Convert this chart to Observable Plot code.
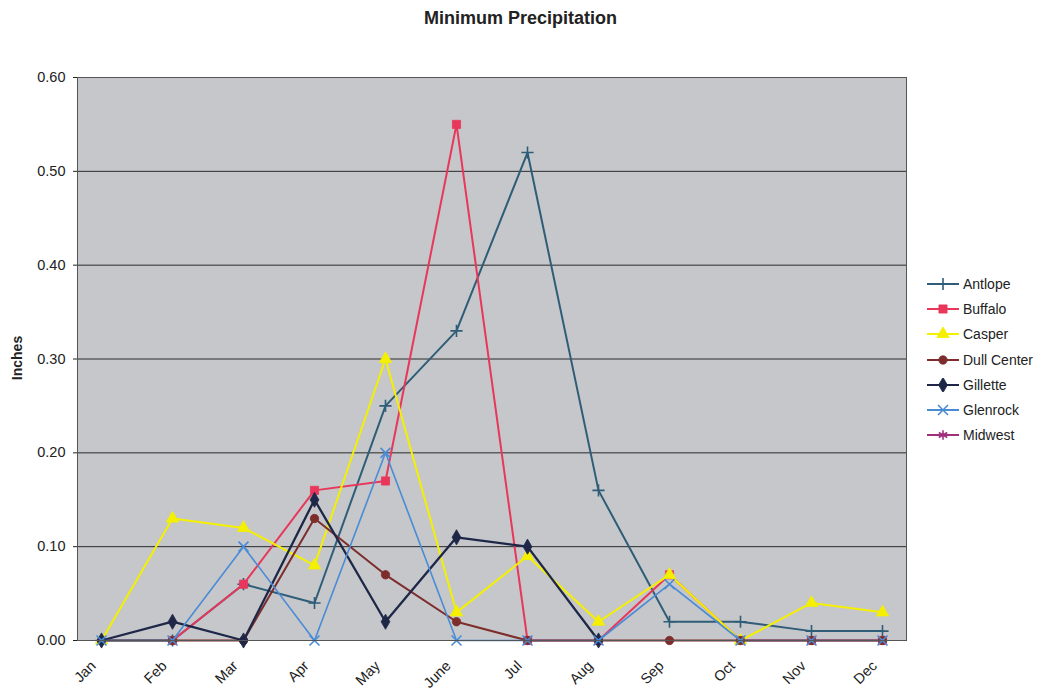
<!DOCTYPE html>
<html>
<head>
<meta charset="utf-8">
<script src="https://cdn.jsdelivr.net/npm/d3@7"></script>
<script src="https://cdn.jsdelivr.net/npm/@observablehq/plot@0.6"></script>
<style>
  html, body { margin: 0; padding: 0; background: #fff; }
  #wrap { position: relative; width: 1041px; height: 693px; font-family: "Liberation Sans", Arial, sans-serif; color: #222; }
  #title { position: absolute; left: 0; width: 1041px; top: 8px; text-align: center; font-weight: bold; font-size: 18px; }
  #ylab { position: absolute; left: 17px; top: 358px; transform: translate(-50%, -50%) rotate(-90deg); font-weight: bold; font-size: 14px; white-space: nowrap; }
  #legend { position: absolute; left: 926px; top: 271px; }
  .item { display: flex; align-items: center; height: 25.3px; font-size: 14px; }
  .item svg { margin-right: 3px; }
</style>
</head>
<body>
<div id="wrap">
  <div id="chart"></div>
  <div id="title">Minimum Precipitation</div>
  <div id="ylab">Inches</div>
  <div id="legend"></div>
</div>
<script>
const months = ["Jan","Feb","Mar","Apr","May","June","Jul","Aug","Sep","Oct","Nov","Dec"];
const yTicks = [0, 0.1, 0.2, 0.3, 0.4, 0.5, 0.6];

const antlope    = [0, 0, 0.06, 0.04, 0.25, 0.33, 0.52, 0.16, 0.02, 0.02, 0.01, 0.01];
const buffalo    = [null, 0, 0.06, 0.16, 0.17, 0.55, 0, 0, 0.07, 0, 0, 0];
const casper     = [0, 0.13, 0.12, 0.08, 0.30, 0.03, 0.09, 0.02, 0.07, 0, 0.04, 0.03];
const dullCenter = [0, 0, 0, 0.13, 0.07, 0.02, 0, 0, 0, 0, 0, 0];
const gillette   = [0, 0.02, 0, 0.15, 0.02, 0.11, 0.10, 0, null, null, null, null];
const glenrock   = [0, 0, 0.10, 0, 0.20, 0, 0, 0, 0.06, 0, 0, 0];
const midwest    = [null, null, null, null, null, null, null, null, null, null, null, null];

const seriesNames = ["Antlope","Buffalo","Casper","Dull Center","Gillette","Glenrock","Midwest"];
const seriesValues = [antlope, buffalo, casper, dullCenter, gillette, glenrock, midwest];
const seriesColors = ["#2f5d78","#e8375b","#f4f000","#7d2d2b","#1e2747","#4a8bd6","#a0307c"];
const seriesSymbols = ["plus","square","triangle","circle","diamond","times","asterisk"];

const styles = seriesNames.map((name, i) => {
  const sym = seriesSymbols[i];
  const strokeSym = ["plus","times","asterisk"].includes(sym);
  return {
    name, color: seriesColors[i], symbol: sym, strokeSym,
    r: sym === "plus" ? 4 : (sym === "circle" ? 4.2 : 4.6),
    lineWidth: name === "Glenrock" ? 1.6 : (name === "Gillette" ? 2.3 : 2)
  };
});

const marks = [
  Plot.frame({fill: "#c5c7ca", stroke: null}),
  Plot.ruleY(yTicks.slice(1), {stroke: "#2a2a2a", strokeWidth: 1}),
  Plot.axisY({ticks: yTicks, tickFormat: d => d.toFixed(2), tickSize: 4, tickPadding: 8, label: null, fontSize: 14.5}),
  Plot.axisX({tickRotate: -45, tickSize: 0, tickPadding: 17, dx: -8, dy: 6, label: null, fontSize: 14.5})
];

styles.forEach((s, i) => {
  const data = months.map((m, j) => ({month: m, v: seriesValues[i][j] == null ? NaN : seriesValues[i][j]}));
  marks.push(Plot.line(data, {x: "month", y: "v", stroke: s.color, strokeWidth: s.lineWidth}));
  const pts = data.filter(d => !isNaN(d.v));
  if (s.strokeSym) {
    marks.push(Plot.dot(pts, {x: "month", y: "v", symbol: s.symbol, r: s.r, stroke: s.color, strokeWidth: 1.6, fill: "none"}));
  } else {
    marks.push(Plot.dot(pts, {x: "month", y: "v", symbol: s.symbol, r: s.r, fill: s.color, stroke: s.color, strokeWidth: 0.8}));
  }
});

marks.push(Plot.frame({stroke: "#555", strokeWidth: 1}));

const chart = Plot.plot({
  width: 1041,
  height: 693,
  marginLeft: 77,
  marginRight: 135,
  marginTop: 77,
  marginBottom: 53,
  style: {fontFamily: "Liberation Sans, Arial, sans-serif", fontSize: "14px", color: "#222", background: "#fff"},
  x: {type: "point", domain: months, padding: 0.265},
  y: {domain: [0, 0.6]},
  marks
});
document.getElementById("chart").appendChild(chart);

// legend
const symMap = {plus: d3.symbolPlus, square: d3.symbolSquare, triangle: d3.symbolTriangle, circle: d3.symbolCircle, diamond: d3.symbolDiamond, times: d3.symbolTimes, asterisk: d3.symbolAsterisk};
const legend = d3.select("#legend");
styles.forEach(s => {
  const item = legend.append("div").attr("class", "item");
  const svg = item.append("svg").attr("width", 34).attr("height", 14);
  svg.append("line").attr("x1", 1).attr("x2", 33).attr("y1", 7).attr("y2", 7).attr("stroke", s.color).attr("stroke-width", 2);
  const path = svg.append("path").attr("transform", "translate(17,7)")
    .attr("d", d3.symbol(symMap[s.symbol], Math.PI * s.r * s.r)());
  if (s.strokeSym) path.attr("fill", "none").attr("stroke", s.color).attr("stroke-width", 1.6);
  else path.attr("fill", s.color).attr("stroke", s.color).attr("stroke-width", 0.8);
  item.append("span").text(s.name);
});
</script>
</body>
</html>
